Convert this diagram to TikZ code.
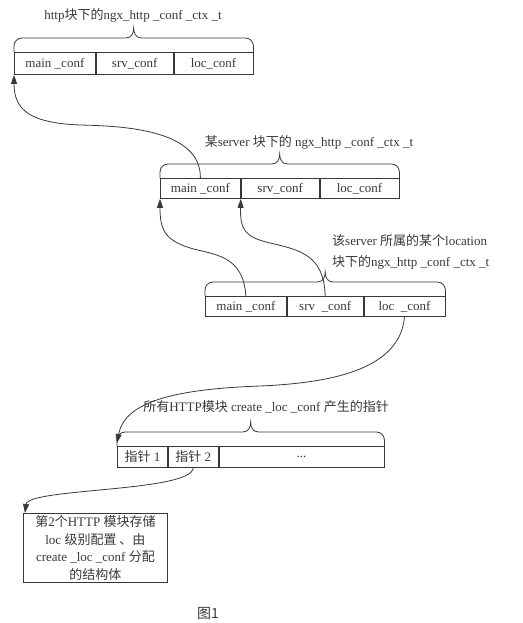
\documentclass[tikz,border=0pt]{standalone}
\usepackage{fontspec}
\setmainfont{Liberation Serif}
\newfontfamily\cjk{Noto Sans CJK SC}
\usetikzlibrary{calc,arrows.meta}
\newcommand\zh[1]{{\cjk #1}}
\definecolor{ink}{gray}{0.22}
\tikzset{
  ln/.style={draw=ink, line width=0.8pt},
  arr/.style={ln, -{Triangle[length=9pt,width=6pt]}},
  txt/.style={text=ink, inner sep=0pt, font=\fontsize{13}{15}\selectfont},
  cell/.style={ln, txt, anchor=north west, inner sep=0pt},
}
% brace above a table from left cell #1 to right cell #2
\newcommand\tabbrace[2]{%
  \draw[ln] (#1.north west) -- ++(0,6) arc[start angle=180,end angle=90,radius=8pt]
    -- ($(#1.north west)!.5!(#2.north east)+(-8,14)$)
    .. controls +(6,0) and +(0,-5) .. ($(#1.north west)!.5!(#2.north east)+(0,24)$)
    .. controls +(0,-5) and +(-6,0) .. ($(#1.north west)!.5!(#2.north east)+(8,14)$)
    -- ($(#2.north east)+(-8,14)$) arc[start angle=90,end angle=0,radius=8pt]
    -- (#2.north east);}
\begin{document}
\begin{tikzpicture}[x=1pt,y=1pt]
\useasboundingbox (0,0) rectangle (522,-623);

% ---- table 1
\node[txt] (h1) at (133,-15) {http\zh{块下的}ngx\_http \_conf \_ctx \_t};
\node[cell, minimum width=81pt, minimum height=22pt] (t1a) at (14,-52) {main \_conf};
\node[cell, minimum width=77pt, minimum height=22pt] (t1b) at (t1a.north east) {srv\_conf};
\node[cell, minimum width=79pt, minimum height=22pt] (t1c) at (t1b.north east) {loc\_conf};
\tabbrace{t1a}{t1c}

% ---- table 2
\node[txt] (h2) at (309,-142) {\zh{某}server \zh{块下的} ngx\_http \_conf \_ctx \_t};
\node[cell, minimum width=80pt, minimum height=20pt] (t2a) at (160,-178) {main \_conf};
\node[cell, minimum width=78pt, minimum height=20pt] (t2b) at (t2a.north east) {srv\_conf};
\node[cell, minimum width=79pt, minimum height=20pt] (t2c) at (t2b.north east) {loc\_conf};
\tabbrace{t2a}{t2c}

% ---- table 3
\node[txt, anchor=west, align=left, font=\fontsize{13}{21}\selectfont] (h3) at (332,-252)
  {\zh{该}server \zh{所属的某个}location\\\zh{块下的}ngx\_http \_conf \_ctx \_t};
\node[cell, minimum width=81pt, minimum height=20pt] (t3a) at (205,-296) {main \_conf};
\node[cell, minimum width=76pt, minimum height=20pt] (t3b) at (t3a.north east) {srv \ \_conf};
\node[cell, minimum width=81pt, minimum height=20pt] (t3c) at (t3b.north east) {loc \ \_conf};
\tabbrace{t3a}{t3c}

% ---- table 4
\node[txt] (h4) at (266,-407) {\zh{所有}HTTP\zh{模块} create \_loc \_conf \zh{产生的指针}};
\node[cell, minimum width=50pt, minimum height=21pt] (t4a) at (117,-446) {\zh{指针} 1};
\node[cell, minimum width=50pt, minimum height=21pt] (t4b) at (t4a.north east) {\zh{指针} 2};
\node[cell, minimum width=165pt, minimum height=21pt] (t4c) at (t4b.north east) {...};
\tabbrace{t4a}{t4c}

% ---- box
\node[cell, minimum width=144pt, minimum height=69pt, align=center,
      font=\fontsize{13}{17.5}\selectfont] (box) at (23,-513)
  {\zh{第}2\zh{个}HTTP \zh{模块存储}\\loc \zh{级别配置 、由}\\create \_loc \_conf \zh{分配}\\\zh{的结构体}};

% ---- caption
\node[txt, font=\fontsize{14}{16}\cjk] (cap) at (208,-613) {图1};

% ---- connectors
\coordinate (wA) at (80,-125);
\coordinate (wB) at (190,-248);
\coordinate (wC) at (270,-243);
\coordinate (wD) at (260,-386);
\draw[arr] (t2a.north) .. controls (201,-130) and (125,-126) .. (wA)
  .. controls (30,-123) and (14,-110) .. (t1a.south west);
\draw[arr] (t3a.north) .. controls (243,-255) and (215,-255) .. (wB)
  .. controls (165,-240) and (160,-230) .. (t2a.south west);
\draw[arr] (t3b.north) .. controls (324,-255) and (300,-250) .. (wC)
  .. controls (245,-237) and (240,-230) .. (t2b.south west);
\draw[arr] (t3c.south) .. controls (400,-370) and (330,-383) .. (wD)
  .. controls (180,-389) and (125,-400) .. ($(t4a.north west)+(0,3)$);
\draw[arr] (t4b.south) .. controls (192,-492) and (28,-488) .. ($(box.north west)+(2,0)$);
\end{tikzpicture}
\end{document}
